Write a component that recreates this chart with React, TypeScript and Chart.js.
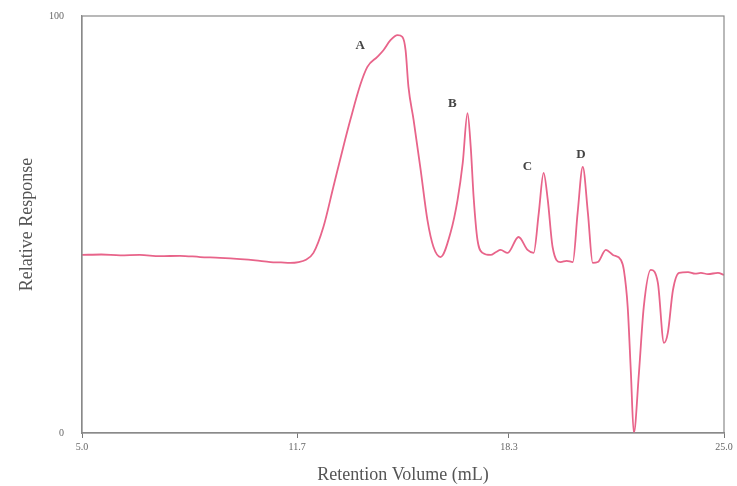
import React, { useEffect, useRef } from "react";
import { Chart, registerables } from "chart.js";

Chart.register(...registerables);

const volumes = [
  5.0, 5.6, 6.19, 6.8, 7.43, 8.05, 8.68, 9.3, 9.93, 10.4, 10.87, 11.2, 11.49, 11.75, 11.96, 12.21,
  12.52, 12.83, 13.14, 13.36, 13.67, 13.89, 14.2, 14.39, 14.61, 14.83, 14.98, 15.08, 15.17, 15.33,
  15.55, 15.76, 15.95, 16.17, 16.48, 16.7, 16.86, 17.01, 17.11, 17.2, 17.32, 17.48, 17.73, 17.9,
  18.04, 18.26, 18.6, 18.88, 19.07, 19.23, 19.38, 19.51, 19.66, 19.91, 20.1, 20.29, 20.44, 20.6,
  20.76, 20.91, 21.07, 21.32, 21.54, 21.79, 21.88, 22.0, 22.1, 22.19, 22.35, 22.5, 22.72, 22.94,
  23.13, 23.25, 23.41, 23.6, 23.88, 24.1, 24.28, 24.5, 24.81, 25.0,
];
const response = [
  42.7, 42.8, 42.6, 42.7, 42.4, 42.5, 42.2, 42.0, 41.7, 41.4, 41.0, 40.9, 40.8, 41.0, 41.5, 43.2,
  49.4, 59.0, 68.6, 75.1, 83.5, 87.8, 90.2, 91.8, 94.2, 95.4, 95.0, 91.8, 83.0, 75.1,
  63.1, 51.1, 44.6, 42.2, 48.0, 55.9, 64.7, 76.7, 68.6, 56.6, 46.3, 43.2, 42.7, 43.4,
  43.9, 43.2, 47.0, 43.9, 43.2, 52.8, 62.4, 55.9, 44.6, 41.0, 41.3, 41.0, 52.8, 63.8,
  52.8, 40.8, 41.0, 43.9, 42.7, 41.5, 39.1, 30.2, 14.4, 0.0, 14.4, 30.2, 39.1, 36.0,
  21.6, 24.0, 34.3, 38.4, 38.6, 38.2, 38.4, 38.1, 38.4, 37.9,
];
const xTickValues = [5.0, 11.7, 18.3, 25.0];
const yTickValues = [0, 100];
const peakNames = ["A", "B", "C", "D"];
const peakX = [13.67, 16.54, 18.88, 20.54];
const peakY = [93.0, 79.1, 63.8, 66.7];

const boxPlugin = {
  id: "boxAndPeaks",
  afterDraw(chart: any) {
    const { ctx, chartArea, scales } = chart;
    ctx.save();
    ctx.strokeStyle = "#8a8a8a";
    ctx.lineWidth = 1.2;
    ctx.strokeRect(chartArea.left, chartArea.top, chartArea.right - chartArea.left, chartArea.bottom - chartArea.top);
    ctx.fillStyle = "#444";
    ctx.font = "bold 13px 'Liberation Serif', serif";
    ctx.textAlign = "center";
    ctx.textBaseline = "middle";
    peakNames.forEach((n, i) => {
      ctx.fillText(n, scales.x.getPixelForValue(peakX[i]), scales.y.getPixelForValue(peakY[i]));
    });
    ctx.restore();
  },
};

export default function App() {
  const ref = useRef<HTMLCanvasElement>(null);
  useEffect(() => {
    const chart = new Chart(ref.current!, {
      type: "line",
      data: {
        datasets: [
          {
            data: volumes.map((v, i) => ({ x: v, y: response[i] })),
            borderColor: "#e8648a",
            borderWidth: 1.8,
            pointRadius: 0,
            fill: false,
            cubicInterpolationMode: "monotone",
          },
        ],
      },
      options: {
        animation: false,
        responsive: false,
        maintainAspectRatio: false,
        layout: { padding: { top: 16, right: 13, left: 0, bottom: 0 } },
        plugins: { legend: { display: false }, tooltip: { enabled: false } },
        scales: {
          x: {
            type: "linear",
            min: 5,
            max: 25,
            afterBuildTicks: (s: any) => {
              s.ticks = xTickValues.map((v) => ({ value: v }));
            },
            afterFit: (s: any) => {
              s.height = 53;
            },
            ticks: {
              autoSkip: false,
              maxRotation: 0,
              color: "#666",
              padding: 3,
              font: { family: "'Liberation Serif', serif", size: 10 },
              callback: (v: any) => Number(v).toFixed(1),
            },
            grid: { drawOnChartArea: false, drawTicks: true, tickLength: 5, color: "#777" },
            border: { display: true, color: "#8a8a8a", width: 1.2 },
            title: {
              display: true,
              text: "Retention Volume (mL)",
              color: "#555",
              font: { family: "'Liberation Serif', serif", size: 18 },
              padding: { top: 2, bottom: 0 },
            },
          },
          y: {
            min: 0,
            max: 100,
            afterBuildTicks: (s: any) => {
              s.ticks = yTickValues.map((v) => ({ value: v }));
            },
            afterFit: (s: any) => {
              s.width = 82;
            },
            ticks: {
              color: "#666",
              padding: 10,
              font: { family: "'Liberation Serif', serif", size: 10 },
            },
            grid: { display: false },
            border: { display: true, color: "#8a8a8a", width: 1.2 },
            title: {
              display: true,
              text: "Relative Response",
              color: "#555",
              font: { family: "'Liberation Serif', serif", size: 18 },
              padding: { top: 16, bottom: 6 },
            },
          },
        },
      } as any,
      plugins: [boxPlugin],
    });
    return () => chart.destroy();
  }, []);
  return (
    <div style={{ position: "fixed", left: 0, top: 0, width: 737, height: 486, background: "#fff" }}>
      <canvas ref={ref} width={737} height={486} style={{ width: 737, height: 486 }} />
    </div>
  );
}
